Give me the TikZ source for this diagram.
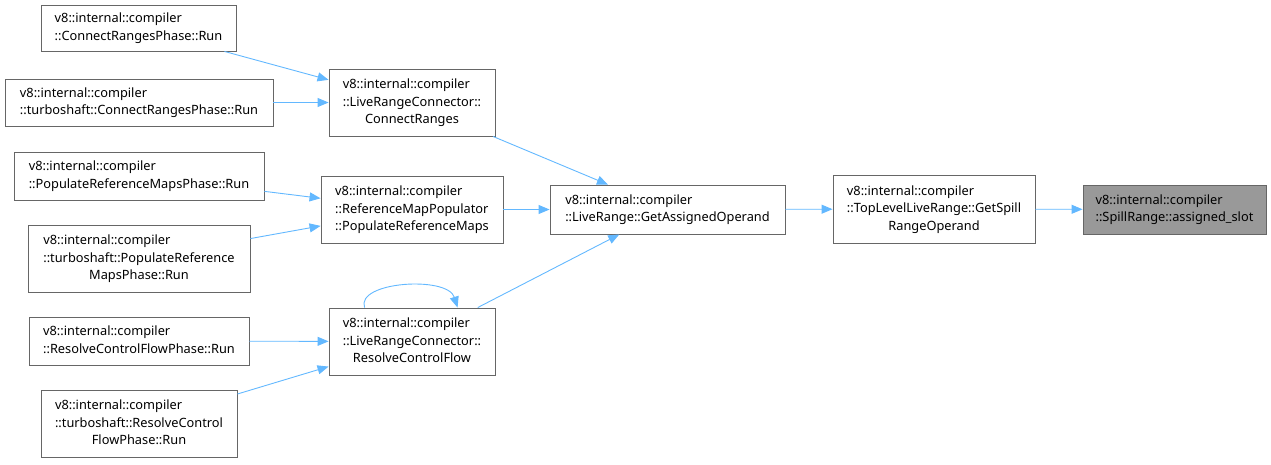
\documentclass[tikz,border=0pt]{standalone}
\usepackage{fontspec}
\setmainfont{Noto Sans}
\usetikzlibrary{arrows.meta,calc}
\definecolor{edgeblue}{HTML}{63B8FF}
\definecolor{boxline}{HTML}{666666}
\definecolor{hifill}{HTML}{999999}
\newcommand{\tl}[2]{\begin{tabular}{@{}l@{}}#1\\#2\end{tabular}}
\newcommand{\tlc}[3]{\begin{tabular}{@{}l@{}}#1\\#2\\\multicolumn{1}{@{}c@{}}{#3}\end{tabular}}
\begin{document}
\begin{tikzpicture}[x=1pt,y=-1pt,
  fn/.style={draw=boxline,line width=0.9pt,fill=white,inner sep=0pt,font=\fontsize{12.8}{17.5}\selectfont,
    execute at begin node={\renewcommand{\arraystretch}{1.0}}},
  edge/.style={draw=edgeblue,line width=0.9pt,-{Triangle[length=11pt,width=9pt]}}]
\useasboundingbox (0,0) rectangle (1271,464);
\node[fn,minimum width=195pt,minimum height=46pt] (n1) at (138.5,28) {\tl{v8::internal::compiler}{::ConnectRangesPhase::Run}};
\node[fn,minimum width=268pt,minimum height=47pt] (n2) at (139,102.5) {\tl{v8::internal::compiler}{::turboshaft::ConnectRangesPhase::Run}};
\node[fn,minimum width=250pt,minimum height=48pt] (n3) at (139,176) {\tl{v8::internal::compiler}{::PopulateReferenceMapsPhase::Run}};
\node[fn,minimum width=222pt,minimum height=67pt] (n4) at (139,258.5) {\tlc{v8::internal::compiler}{::turboshaft::PopulateReference}{MapsPhase::Run}};
\node[fn,minimum width=220pt,minimum height=48pt] (n5) at (139,341) {\tl{v8::internal::compiler}{::ResolveControlFlowPhase::Run}};
\node[fn,minimum width=196pt,minimum height=67pt] (n6) at (139,423.5) {\tlc{v8::internal::compiler}{::turboshaft::ResolveControl}{FlowPhase::Run}};
\node[fn,minimum width=166pt,minimum height=67pt] (n7) at (412,102.5) {\tlc{v8::internal::compiler}{::LiveRangeConnector::}{ConnectRanges}};
\node[fn,minimum width=182pt,minimum height=67pt] (n8) at (412,209.5) {\tlc{v8::internal::compiler}{::ReferenceMapPopulator}{::PopulateReferenceMaps}};
\node[fn,minimum width=166pt,minimum height=67pt] (n9) at (412,341.5) {\tlc{v8::internal::compiler}{::LiveRangeConnector::}{ResolveControlFlow}};
\node[fn,minimum width=235pt,minimum height=49pt] (n10) at (667.5,209.5) {\tl{v8::internal::compiler}{::LiveRange::GetAssignedOperand}};
\node[fn,minimum width=202pt,minimum height=68pt] (n11) at (934,209) {\tlc{v8::internal::compiler}{::TopLevelLiveRange::GetSpill}{RangeOperand}};
\node[fn,fill=hifill,minimum width=183pt,minimum height=49pt] (n12) at (1174.5,209.5) {\tl{v8::internal::compiler}{::SpillRange::assigned\_slot}};
\draw[edge] (n1) -- (n7);
\draw[edge] (n2) -- (n7);
\draw[edge] (n3) -- (n8);
\draw[edge] (n4) -- (n8);
\draw[edge] (n5) -- (n9);
\draw[edge] (n6) -- (n9);
\draw[edge] (n7) -- (n10);
\draw[edge] (n8) -- (n10);
\draw[edge] (n9) -- (n10);
\draw[edge] (n10) -- (n11);
\draw[edge] (n11) -- (n12);
\coordinate (ls) at ($(n9.north west)+(36,0)$);
\coordinate (le) at ($(n9.north west)+(129,0)$);
\draw[edge] (ls) .. controls ($(ls)+(-9,-26)$) and ($(le)+(-10,-32)$) .. (le);
\end{tikzpicture}
\end{document}
